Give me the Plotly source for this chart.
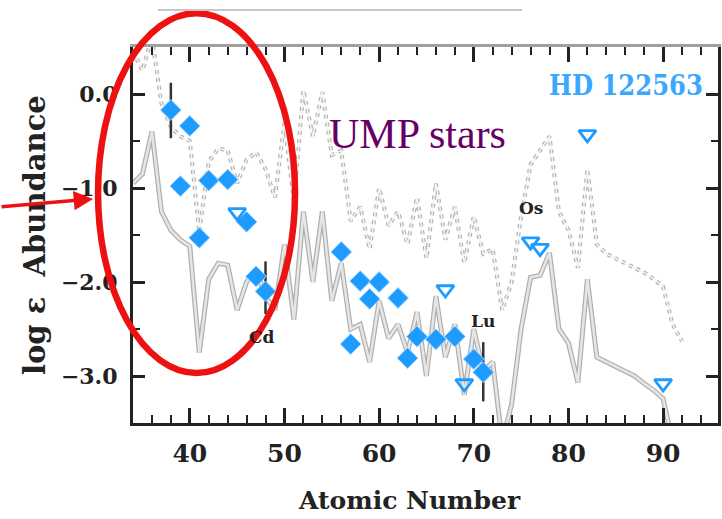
import plotly.graph_objects as go

# ---------------- data ----------------
# model curves (atomic number vs log eps)
z_curve = list(range(34, 93))
lower_curve = [-0.95, -0.85, -0.40, -1.25, -1.45, -1.55, -1.62, -2.75, -1.97, -1.80,
               -1.82, -2.30, -2.00, -1.87, -2.15, -2.30, -1.60, -2.40, -1.25, -2.00,
               -1.25, -2.20, -1.80, -2.50, -2.45, -2.85, -2.20, -2.60, -2.45, -2.75,
               -2.32, -3.00, -2.15, -2.80, -2.45, -3.20, -2.50, -2.95, -2.85, -3.70,
               -3.30, -2.50, -1.95, -1.93, -1.69, -2.50, -2.65, -3.07, -1.97, -2.80,
               -2.85, -2.90, -2.95, -3.00, -3.08, -3.15, -3.24, -3.70, -4.00]
upper_curve = [0.45, 0.25, 0.60, -0.10, -0.35, -0.45, -0.50, -1.47, -0.72, -0.58,
               -0.60, -0.95, -0.70, -0.62, -0.80, -1.10, -0.30, -1.15, 0.04, -0.45,
               0.02, -0.65, -0.60, -1.35, -1.20, -1.65, -1.00, -1.40, -1.25, -1.60,
               -1.10, -1.75, -0.95, -1.55, -1.20, -1.80, -1.30, -1.70, -1.65, -2.30,
               -2.00, -1.30, -0.75, -0.60, -0.45, -1.25, -1.45, -1.85, -0.80, -1.60,
               -1.70, -1.75, -1.80, -1.85, -1.90, -1.97, -2.05, -2.45, -2.63]

# measured abundances (HD 122563)
det_z = [38, 39, 40, 41, 42, 44, 46, 47, 48, 56, 57, 58, 59, 60, 62, 63, 64, 66, 68, 70, 71]
det_v = [-0.17, -0.98, -0.34, -1.53, -0.92, -0.91, -1.36, -1.94, -2.10, -1.68, -2.66,
         -1.99, -2.18, -2.00, -2.17, -2.81, -2.58, -2.61, -2.58, -2.82, -2.96]

# upper limits
lim_z = [45, 67, 69, 76, 77, 82, 90]
lim_v = [-1.26, -2.08, -3.08, -1.57, -1.64, -0.43, -3.08]

# error bars (element, value, plus, minus)
err_z = [38, 48, 71]
err_v = [-0.17, -2.10, -2.96]
err_plus = [0.29, 0.32, 0.32]
err_minus = [0.30, 0.24, 0.31]

# element labels
lab_text = ["Cd", "Lu", "Os"]
lab_z = [47.6, 71.0, 76.0]
lab_v = [-2.59, -2.42, -1.21]

x_ticks = [40, 50, 60, 70, 80, 90]
y_ticks = [0.0, -1.0, -2.0, -3.0]
x_range = [34, 95.8]
y_range = [-3.5, 0.5]

BLUE = "#1e9bff"
AX = "#222222"

fig = go.Figure()

# upper (dotted) curve: outline + white core
fig.add_trace(go.Scatter(x=z_curve, y=upper_curve, mode="lines",
                         line=dict(color="#b4b4b4", width=4, dash="dot"),
                         hoverinfo="skip", showlegend=False))
fig.add_trace(go.Scatter(x=z_curve, y=upper_curve, mode="lines",
                         line=dict(color="#f4f4f4", width=1.5),
                         hoverinfo="skip", showlegend=False))
# lower (solid) curve: outline + light core
fig.add_trace(go.Scatter(x=z_curve, y=lower_curve, mode="lines",
                         line=dict(color="#b0b0b0", width=5),
                         hoverinfo="skip", showlegend=False))
fig.add_trace(go.Scatter(x=z_curve, y=lower_curve, mode="lines",
                         line=dict(color="#e6e6e6", width=2.5),
                         hoverinfo="skip", showlegend=False))

# error bars
fig.add_trace(go.Scatter(x=err_z, y=err_v, mode="markers",
                         marker=dict(size=1, color="rgba(0,0,0,0)"),
                         error_y=dict(type="data", symmetric=False, array=err_plus,
                                      arrayminus=err_minus, color="#333333",
                                      thickness=2.5, width=0),
                         hoverinfo="skip", showlegend=False))

# detections
fig.add_trace(go.Scatter(x=det_z, y=det_v, mode="markers",
                         marker=dict(symbol="diamond", size=16, color=BLUE,
                                     line=dict(color="#9fd2ff", width=1)),
                         showlegend=False))
# upper limits
fig.add_trace(go.Scatter(x=lim_z, y=lim_v, mode="markers",
                         marker=dict(symbol="triangle-down-open", size=15, color=BLUE,
                                     line=dict(color=BLUE, width=2.8)),
                         showlegend=False))

# empty trace to realise the mirrored (top/right) tick axes
fig.add_trace(go.Scatter(x=[None], y=[None], xaxis="x2", yaxis="y2",
                         hoverinfo="skip", showlegend=False))

for t, zx, vy in zip(lab_text, lab_z, lab_v):
    fig.add_annotation(x=zx, y=vy, text="<b>%s</b>" % t, showarrow=False,
                       font=dict(family="DejaVu Serif", size=17, color="#222222"))

fig.add_annotation(x=86.1, y=0.095, text="<b>HD 122563</b>", showarrow=False,
                   font=dict(family="DejaVu Serif Condensed, DejaVu Serif", size=27,
                             color="#3aa8ff"))
fig.add_annotation(x=64.1, y=-0.43, text="UMP stars", showarrow=False,
                   font=dict(family="Liberation Serif", size=42, color="#660066"))

# axis titles
fig.add_annotation(xref="paper", yref="paper", x=0.4735, y=-0.25,
                   text="<b>Atomic Number</b>", showarrow=False,
                   font=dict(family="DejaVu Serif", size=25, color="#222222"))
fig.add_annotation(xref="paper", yref="paper", x=-0.2, y=0.5,
                   text="<b>log \u03b5  Abundance</b>", showarrow=False, textangle=-90,
                   font=dict(family="DejaVu Serif", size=29, color="#222222"))

# red arrow
fig.add_annotation(xref="paper", yref="paper", x=-0.0684, y=0.596, ax=-95, ay=8,
                   text="", showarrow=True, arrowhead=2, arrowsize=1.1,
                   arrowwidth=3.5, arrowcolor="#ee1111")

# red ellipse (not clipped: paper coords)
fig.add_shape(type="circle", xref="paper", yref="paper",
              x0=-0.0598, x1=0.277, y0=0.133, y1=1.090,
              line=dict(color="#ee1111", width=6.5), layer="above")
# stray grey line at top
fig.add_shape(type="line", xref="paper", yref="paper",
              x0=(158 - 133) / 585, x1=(522 - 133) / 585, y0=(423 - 10) / 376, y1=(423 - 10) / 376,
              line=dict(color="#c8c8c8", width=2))

major_x = dict(ticks="inside", ticklen=15, tickwidth=2.5, tickcolor=AX)
minor_x = dict(ticks="inside", dtick=2, tick0=0, ticklen=8, tickwidth=2, tickcolor=AX)
major_y = dict(ticks="inside", ticklen=12, tickwidth=2.5, tickcolor=AX)
minor_y = dict(ticks="inside", dtick=0.5, tick0=0, ticklen=7, tickwidth=2, tickcolor=AX)

fig.update_layout(
    width=722, height=519, margin=dict(l=133, r=4, t=47, b=96),
    plot_bgcolor="white", paper_bgcolor="white", showlegend=False,
    xaxis=dict(range=x_range, tickvals=x_ticks, **major_x, showline=True, linecolor=AX,
               linewidth=3, showgrid=False, zeroline=False, ticklabelstandoff=6,
               tickfont=dict(family="DejaVu Serif", size=25, color="#222222", weight="bold"),
               minor=minor_x),
    yaxis=dict(range=y_range, tickvals=y_ticks, tickformat=".1f", **major_y,
               showline=True, linecolor=AX, linewidth=3, showgrid=False, zeroline=False,
               ticklabelstandoff=8,
               tickfont=dict(family="DejaVu Serif", size=22, color="#222222", weight="bold"),
               minor=minor_y),
    xaxis2=dict(overlaying="x", side="top", range=x_range, tickvals=x_ticks,
                showticklabels=False, **major_x, showline=True, linecolor="#a0a0a0",
                linewidth=2.5, showgrid=False, zeroline=False, minor=minor_x),
    yaxis2=dict(overlaying="y", side="right", range=y_range, tickvals=y_ticks,
                showticklabels=False, **major_y, showline=True, linecolor=AX,
                linewidth=2.5, showgrid=False, zeroline=False, minor=minor_y),
)

fig.write_html("out.html")
